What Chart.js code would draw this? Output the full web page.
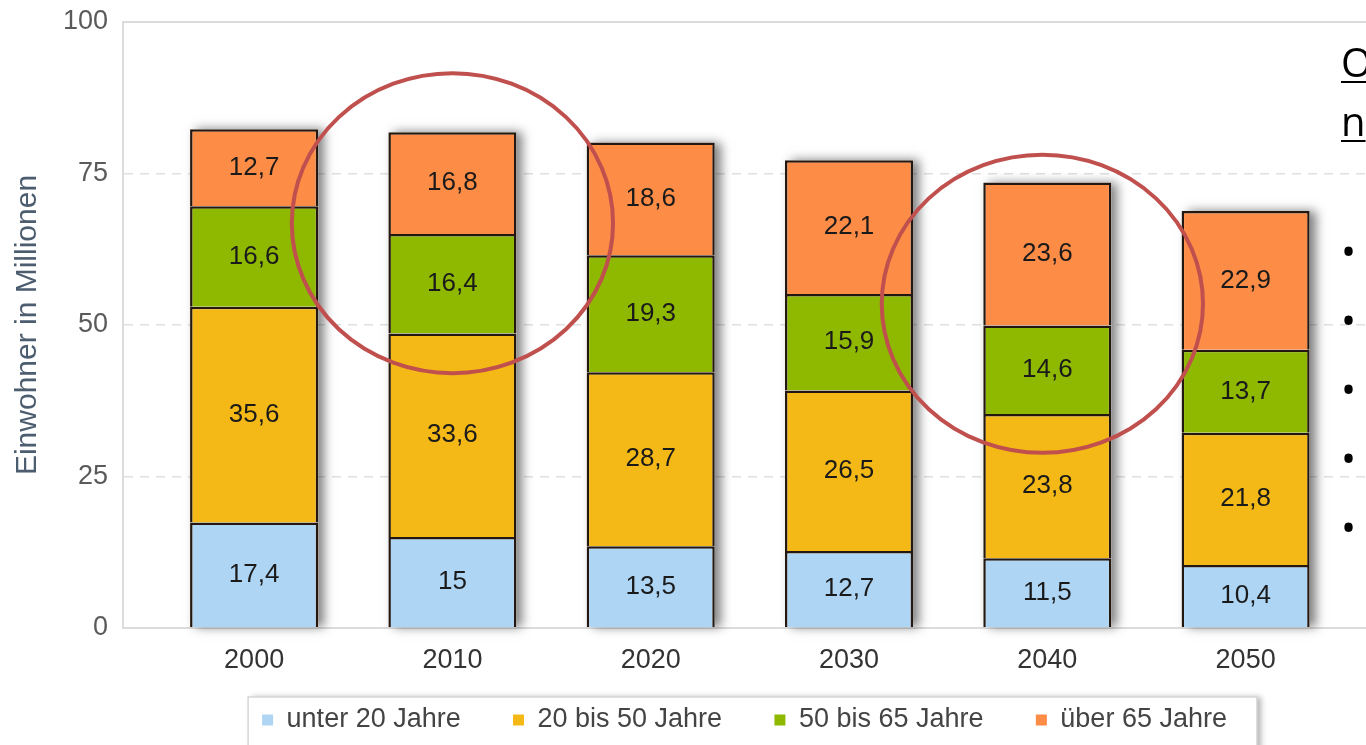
<!DOCTYPE html>
<html>
<head>
<meta charset="utf-8">
<script src="https://cdn.jsdelivr.net/npm/chart.js@4/dist/chart.umd.min.js"></script>
<style>
html,body{margin:0;padding:0;background:#fff;overflow:hidden}
#wrap{position:relative;width:1366px;height:745px;background:#fff}
#c{position:absolute;left:0;top:0}
.side{position:absolute;left:1341px;font-family:"Open Sans",sans-serif;color:#000;white-space:nowrap}
.head{top:32px;font-size:40px;line-height:59px;text-decoration:underline;text-decoration-thickness:2px;text-underline-offset:4px}
.bul{top:216px;font-size:40px;line-height:69px}
</style>
</head>
<body>
<div id="wrap">
<canvas id="c" width="1366" height="745"></canvas>
<div class="side head">O<br>n</div>
<div class="side bul">•<br>•<br>•<br>•<br>•</div>
</div>
<script>
// ---- data ----
const years = ['2000', '2010', '2020', '2030', '2040', '2050'];
const under20 = [17.4, 15, 13.5, 12.7, 11.5, 10.4];
const age20to50 = [35.6, 33.6, 28.7, 26.5, 23.8, 21.8];
const age50to65 = [16.6, 16.4, 19.3, 15.9, 14.6, 13.7];
const over65 = [12.7, 16.8, 18.6, 22.1, 23.6, 22.9];
const seriesNames = ['unter 20 Jahre', '20 bis 50 Jahre', '50 bis 65 Jahre', 'über 65 Jahre'];
const yAxisTitle = 'Einwohner in Millionen';
// highlight ellipses (category index, value, radius in categories, radius in values)
const highlightX = [1, 3.975];
const highlightY = [66.8, 53.5];
const highlightRX = [0.81, 0.81];
const highlightRY = [24.75, 24.6];

const FONT = '"Liberation Sans", Arial, sans-serif';
const colors = ['#aed5f4', '#f4b916', '#8fb800', '#fd8c47'];
const seriesValues = [under20, age20to50, age50to65, over65];
const toPts = arr => arr.map((v, i) => ({x: i, y: v}));

const datasets = seriesValues.map((vals, k) => ({
  label: seriesNames[k],
  data: toPts(vals),
  backgroundColor: colors[k],
  borderColor: '#24170f',
  borderWidth: 2.5,
  barPercentage: 0.646,
  categoryPercentage: 1
}));

const shadowPlugin = {
  id: 'barShadow',
  beforeDatasetsDraw(chart) {
    const ctx = chart.ctx;
    const n = chart.data.datasets.length;
    const first = chart.getDatasetMeta(0).data;
    const last = chart.getDatasetMeta(n - 1).data;
    ctx.save();
    ctx.shadowColor = 'rgba(0,0,0,0.5)';
    ctx.shadowBlur = 10;
    ctx.shadowOffsetX = 6;
    ctx.shadowOffsetY = 0;
    ctx.fillStyle = '#fff';
    first.forEach((el0, i) => {
      const elN = last[i];
      const w = el0.width;
      ctx.fillRect(el0.x - w / 2, elN.y, w, el0.base - elN.y);
    });
    ctx.restore();
  }
};

const labelPlugin = {
  id: 'segLabels',
  afterDatasetsDraw(chart) {
    const ctx = chart.ctx;
    ctx.save();
    ctx.font = '26px ' + FONT;
    ctx.fillStyle = '#1a1a1a';
    ctx.textAlign = 'center';
    ctx.textBaseline = 'middle';
    chart.data.datasets.forEach((ds, k) => {
      chart.getDatasetMeta(k).data.forEach((el, i) => {
        const v = seriesValues[k][i];
        ctx.fillText(String(v).replace('.', ','), el.x, (el.y + el.base) / 2);
      });
    });
    ctx.restore();
  }
};

const legendBoxPlugin = {
  id: 'legendBox',
  beforeDraw(chart) {
    const ctx = chart.ctx;
    const lg = chart.legend;
    if (!lg || !lg.legendHitBoxes || !lg.legendHitBoxes.length) return;
    const hb = lg.legendHitBoxes;
    const l = hb[0].left - 14;
    const r = hb[hb.length - 1].left + hb[hb.length - 1].width + 30;
    const t = hb[0].top - 9.5;
    const b = chart.height + 20;
    ctx.save();
    ctx.shadowColor = 'rgba(0,0,0,0.3)';
    ctx.shadowBlur = 6;
    ctx.shadowOffsetX = 4;
    ctx.fillStyle = '#fff';
    ctx.fillRect(l, t, r - l, b - t);
    ctx.restore();
    ctx.save();
    ctx.strokeStyle = '#d6d6d6';
    ctx.lineWidth = 1.5;
    ctx.strokeRect(l, t, r - l, b - t);
    ctx.restore();
  }
};

const circlePlugin = {
  id: 'highlights',
  afterDraw(chart) {
    const ctx = chart.ctx;
    const xs = chart.scales.x, ys = chart.scales.y;
    ctx.save();
    ctx.strokeStyle = '#c0504d';
    ctx.lineWidth = 4;
    highlightX.forEach((cx, i) => {
      const px = xs.getPixelForValue(cx);
      const py = ys.getPixelForValue(highlightY[i]);
      const rx = Math.abs(xs.getPixelForValue(cx + highlightRX[i]) - px);
      const ry = Math.abs(ys.getPixelForValue(highlightY[i] + highlightRY[i]) - py);
      ctx.beginPath();
      ctx.ellipse(px, py, rx, ry, 0, 0, Math.PI * 2);
      ctx.stroke();
    });
    ctx.restore();
  }
};

new Chart(document.getElementById('c'), {
  type: 'bar',
  data: {datasets},
  options: {
    responsive: false,
    animation: false,
    layout: {padding: {top: 22, left: 0, right: 0, bottom: 1.5}},
    plugins: {
      tooltip: {enabled: false},
      legend: {
        position: 'bottom',
        fullSize: false,
        labels: {
          boxWidth: 11,
          boxHeight: 11,
          padding: 34.3,
          color: '#444',
          font: {family: FONT, size: 27},
          generateLabels: chart => {
            const items = Chart.defaults.plugins.legend.labels.generateLabels(chart);
            return items.map((l, i) => Object.assign({}, l, {
              text: i < items.length - 1 ? l.text + '\u2002\u2006' : l.text,
              lineWidth: 0,
              strokeStyle: 'rgba(0,0,0,0)'
            }));
          }
        }
      }
    },
    scales: {
      x: {
        type: 'linear',
        stacked: true,
        offset: false,
        min: -0.661,
        max: 5.607,
        afterFit: s => { s.height = 44.2; },
        grid: {drawOnChartArea: false, drawTicks: false, offset: false},
        border: {color: '#dcdcdc', width: 2},
        ticks: {
          stepSize: 1,
          includeBounds: false,
          autoSkip: false,
          maxRotation: 0,
          padding: 16.5,
          color: '#333',
          font: {family: FONT, size: 27},
          callback: v => (Number.isInteger(v) && years[v] !== undefined) ? years[v] : ''
        }
      },
      y: {
        stacked: true,
        min: 0,
        max: 100,
        ticks: {stepSize: 25, padding: 15, color: '#5a5a5a', font: {family: FONT, size: 27, lineHeight: 0.5}},
        grid: {
          drawTicks: false,
          lineWidth: c => (c.tick && c.tick.value === 100) ? 2 : 1.5,
          color: c => (c.tick && c.tick.value === 0) ? 'rgba(0,0,0,0)' : (c.tick && c.tick.value === 100 ? '#dcdcdc' : '#e0e0e0')
        },
        border: {
          color: '#dcdcdc',
          width: 2,
          dash: c => (c.tick && c.tick.value === 100) ? [] : [9, 7]
        },
        title: {
          display: true,
          text: yAxisTitle,
          color: '#4d5d70',
          font: {family: FONT, size: 30},
          padding: {top: 10, bottom: 2}
        }
      }
    }
  },
  plugins: [legendBoxPlugin, shadowPlugin, labelPlugin, circlePlugin]
});
</script>
</body>
</html>
